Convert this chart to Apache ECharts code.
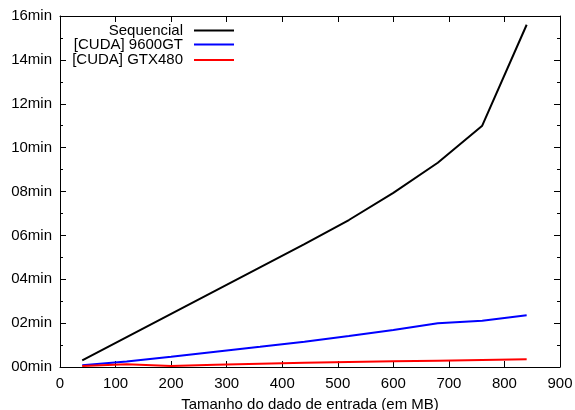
<!DOCTYPE html>
<html lang="pt">

<head>
    <meta charset="UTF-8">
    <script src="https://cdn.jsdelivr.net/npm/echarts@6/dist/echarts.min.js"></script>
    <title>Tempo de processamento</title>
    <style>
        html, body { margin: 0; padding: 0; background: #fff; }
        #main { width: 575px; height: 410px; }
    </style>
</head>

<body>
    <div id="main"></div>
    <script>
        // tamanho do dado (MB) e tempos em minutos
        var tamanhos = [40, 120, 200, 280, 360, 440, 520, 600, 680, 760, 840];
        var sequencial = [0.30, 1.36, 2.42, 3.48, 4.54, 5.60, 6.70, 7.94, 9.31, 11.0, 15.6];
        var cuda9600 = [0.08, 0.25, 0.47, 0.70, 0.92, 1.15, 1.41, 1.69, 1.99, 2.11, 2.36];
        var cudaGTX480 = [0.05, 0.12, 0.05, 0.10, 0.15, 0.19, 0.23, 0.26, 0.29, 0.32, 0.35];
        var nomes = ['Sequencial', '[CUDA] 9600GT', '[CUDA] GTX480'];
        var cores = ['#000000', '#0000ff', '#ff0000'];

        var fonte = "'Liberation Sans', Arial, sans-serif";

        function pares(ys) {
            return tamanhos.map(function (x, i) { return [x, ys[i]]; });
        }

        var chart = echarts.init(document.getElementById('main'));

        var axisLine = { show: true, onZero: false, lineStyle: { color: '#000', width: 1 } };

        var legendas = nomes.map(function (n, i) {
            return {
                data: [n],
                orient: 'vertical',
                align: 'right',
                right: 341,
                top: [23, 37, 52.5][i],
                padding: 0,
                icon: 'rect',
                itemWidth: 40,
                itemHeight: 2,
                textStyle: { fontSize: 15, color: '#000', fontFamily: fonte, padding: [0, 6, 0, 0] }
            };
        });

        var option = {
            animation: false,
            backgroundColor: '#fff',
            color: cores,
            legend: legendas,
            grid: { left: 60, right: 15, top: 16, bottom: 43, outerBoundsMode: 'none', containLabel: false },
            xAxis: [{
                type: 'value',
                min: 0, max: 900, interval: 100,
                position: 'bottom',
                name: 'Tamanho do dado de entrada (em MB)',
                nameLocation: 'middle',
                nameGap: 30,
                nameTextStyle: { fontSize: 15, color: '#000', fontFamily: fonte },
                axisLine: axisLine,
                axisTick: { inside: true, length: 6, lineStyle: { color: '#000' } },
                axisLabel: { fontSize: 15, color: '#000', fontFamily: fonte, margin: 9 },
                splitLine: { show: false }
            }, {
                type: 'value',
                min: 0, max: 900, interval: 100,
                position: 'top',
                axisLine: axisLine,
                axisTick: { inside: true, length: 6, lineStyle: { color: '#000' } },
                axisLabel: { show: false },
                splitLine: { show: false }
            }],
            yAxis: [{
                type: 'value',
                min: 0, max: 16, interval: 2,
                position: 'left',
                axisLine: axisLine,
                axisTick: { inside: true, length: 6, lineStyle: { color: '#000' } },
                minorTick: { show: true, splitNumber: 2, length: 3, lineStyle: { color: '#000' } },
                axisLabel: {
                    fontSize: 15, color: '#000', fontFamily: fonte, margin: 8,
                    formatter: function (v) { return (v < 10 ? '0' : '') + v + 'min'; }
                },
                splitLine: { show: false }
            }, {
                type: 'value',
                min: 0, max: 16, interval: 2,
                position: 'right',
                axisLine: axisLine,
                axisTick: { inside: true, length: 6, lineStyle: { color: '#000' } },
                minorTick: { show: true, splitNumber: 2, length: 3, lineStyle: { color: '#000' } },
                axisLabel: { show: false },
                splitLine: { show: false }
            }],
            series: [
                { name: nomes[0], type: 'line', symbol: 'none', data: pares(sequencial), lineStyle: { width: 2, color: cores[0] } },
                { name: nomes[1], type: 'line', symbol: 'none', data: pares(cuda9600), lineStyle: { width: 2, color: cores[1] } },
                { name: nomes[2], type: 'line', symbol: 'none', data: pares(cudaGTX480), lineStyle: { width: 2, color: cores[2] } }
            ]
        };

        chart.setOption(option);
    </script>
</body>

</html>
